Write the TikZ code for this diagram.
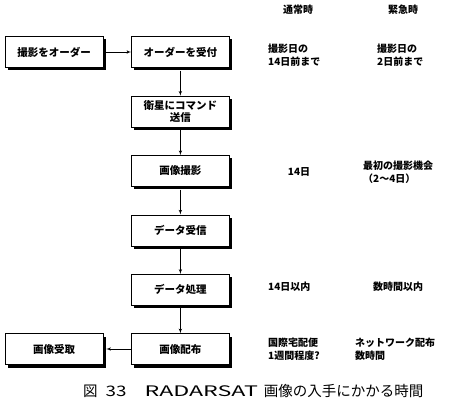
\documentclass[tikz,border=0pt]{standalone}
\usepackage{graphicx}
\usepackage{fontspec}
\setmainfont{Noto Sans CJK JP}
\usetikzlibrary{arrows,positioning,shadows}

\begin{document}
\begin{tikzpicture}[node distance=28pt,auto,>=latex',
    stage/.style={rectangle,draw=black,thin,fill=white,minimum width=98pt,
      minimum height=31pt,inner sep=2pt,align=center,
      font=\fontsize{10.5}{12.5}\selectfont\bfseries,
      drop shadow={shadow xshift=3pt,shadow yshift=-3pt,fill=black,opacity=1}},
    flow/.style={->,semithick},
    note/.style={anchor=west,align=left,inner sep=0pt,font=\fontsize{10}{13}\selectfont\bfseries},
    head/.style={inner sep=0pt,font=\fontsize{10}{12}\selectfont\bfseries}]
    \useasboundingbox (0,0) rectangle (450pt,-404pt);

    % flow of stages
    \node (order) [stage] at (54pt,-52pt) {撮影をオーダー};
    \node (accept) [stage,right=of order] {オーダーを受付};
    \node (command) [stage,below=of accept] {衛星にコマンド\\送信};
    \node (shoot) [stage,below=of command] {画像撮影};
    \node (downlink) [stage,below=of shoot] {データ受信};
    \node (process) [stage,below=of downlink] {データ処理};
    \node (deliver) [stage,below=of process] {画像配布};
    \node (receive) [stage,left=of deliver] {画像受取};

    \draw[flow,shorten <=3pt] (order) -- (accept);
    \draw[flow,shorten <=3pt] (accept) -- (command);
    \draw[flow,shorten <=3pt] (command) -- (shoot);
    \draw[flow,shorten <=3pt] (shoot) -- (downlink);
    \draw[flow,shorten <=3pt] (downlink) -- (process);
    \draw[flow,shorten <=3pt] (process) -- (deliver);
    \draw[flow,shorten >=3pt] (deliver) -- (receive);

    % times
    \node (normal) [head] at (298pt,-10pt) {通常時};
    \node (urgent) [head] at (403pt,-10pt) {緊急時};
    \node (normalorder) [note] at (268pt,-55pt) {撮影日の\\14日前まで};
    \node (urgentorder) [note] at (377pt,-55pt) {撮影日の\\2日前まで};
    \node (normalshoot) [head] at (299pt,-172pt) {14日};
    \node (urgentshoot) [note] at (363pt,-172pt) {最初の撮影機会\\（2～4日）};
    \node (normalprocess) [note] at (268pt,-287pt) {14日以内};
    \node (urgentprocess) [note] at (373pt,-287pt) {数時間以内};
    \node (normaldeliver) [note] at (268pt,-349pt) {国際宅配便\\1週間程度?};
    \node (urgentdeliver) [note] at (355pt,-349pt) {ネットワーク配布\\数時間};

    \node (caption) [anchor=west,inner sep=0pt,font=\fontsize{14.5}{16}\selectfont]
      at (83pt,-391pt) {図\hspace{8pt}\scalebox{1.3}[1]{33}\hspace{18pt}\scalebox{1.6}[1]{RADARSAT}\hspace{6pt}画像の入手にかかる時間};
\end{tikzpicture}
\end{document}
